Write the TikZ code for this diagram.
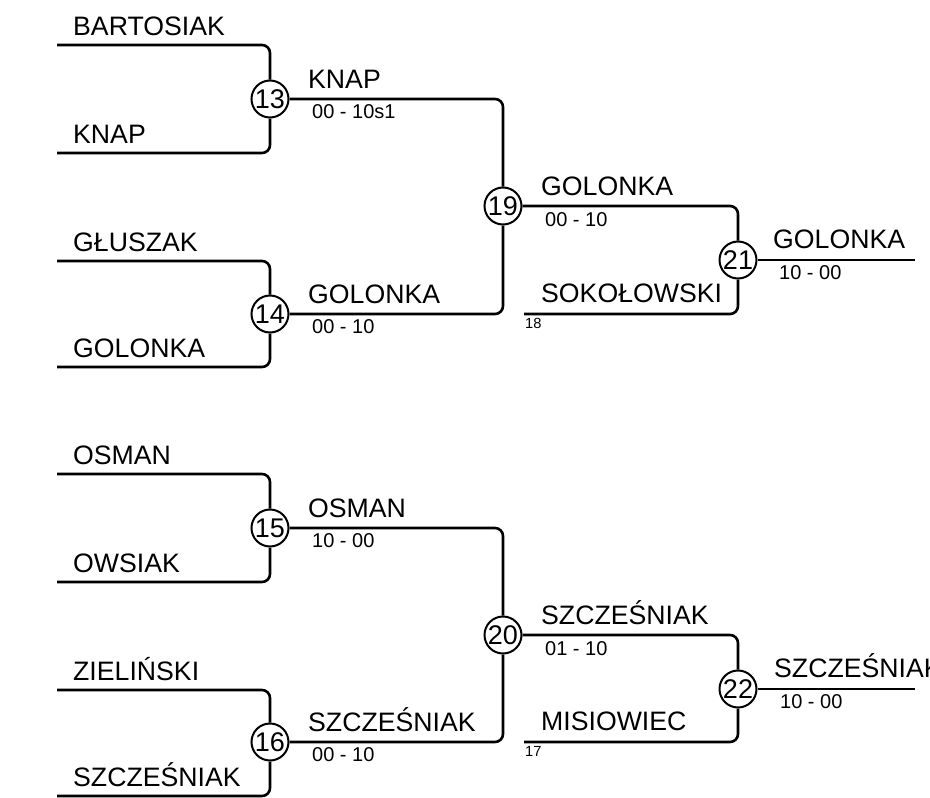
\documentclass[tikz,border=0pt]{standalone}
\usepackage{fontspec}
\setmainfont{Liberation Sans}
\begin{document}
\begin{tikzpicture}[x=1pt,y=-1pt,
  match/.style={circle, draw, fill=white, line width=2pt, minimum size=37pt, inner sep=0pt, font=\fontsize{27}{27}\selectfont},
  pname/.style={anchor=base west, inner sep=0pt, font=\fontsize{26.67}{30}\selectfont},
  pscore/.style={anchor=base west, inner sep=0pt, font=\fontsize{20}{22}\selectfont},
  pseed/.style={anchor=base west, inner sep=0pt, font=\fontsize{14.67}{16}\selectfont},
  wire/.style={line width=2.6pt, rounded corners=8pt}]
\useasboundingbox (0,0) rectangle (930,798);
\clip (0,0) rectangle (930,798);
% player line starts
\coordinate (p1) at (57,45);
\coordinate (p2) at (57,153);
\coordinate (p3) at (57,261);
\coordinate (p4) at (57,367);
\coordinate (p5) at (57,474);
\coordinate (p6) at (57,582);
\coordinate (p7) at (57,690);
\coordinate (p8) at (57,796);
\coordinate (s18) at (524,314);
\coordinate (s17) at (524,742);
\coordinate (f21) at (915,260);
\coordinate (f22) at (915,689);
% matches
\node[match] (m13) at (270,99) {13};
\node[match] (m14) at (270,314) {14};
\node[match] (m19) at (503,206) {19};
\node[match] (m21) at (738,260) {21};
\node[match] (m15) at (270,528) {15};
\node[match] (m16) at (270,742) {16};
\node[match] (m20) at (503,635) {20};
\node[match] (m22) at (738,689) {22};
% wires
\draw[wire] (p1) -| (m13);
\draw[wire] (p2) -| (m13);
\draw[wire] (p3) -| (m14);
\draw[wire] (p4) -| (m14);
\draw[wire] (p5) -| (m15);
\draw[wire] (p6) -| (m15);
\draw[wire] (p7) -| (m16);
\draw[wire] (p8) -| (m16);
\draw[wire] (m13) -| (m19);
\draw[wire] (m14) -| (m19);
\draw[wire] (m15) -| (m20);
\draw[wire] (m16) -| (m20);
\draw[wire] (m19) -| (m21);
\draw[wire] (s18) -| (m21);
\draw[wire] (m20) -| (m22);
\draw[wire] (s17) -| (m22);
\draw[wire] (m21) -- (f21);
\draw[wire] (m22) -- (f22);
% first round names
\node[pname] (n1) at (73,35) {BARTOSIAK};
\node[pname] (n2) at (73,143) {KNAP};
\node[pname] (n3) at (73,251) {GŁUSZAK};
\node[pname] (n4) at (73,357) {GOLONKA};
\node[pname] (n5) at (73,464) {OSMAN};
\node[pname] (n6) at (73,572) {OWSIAK};
\node[pname] (n7) at (73,680) {ZIELIŃSKI};
\node[pname] (n8) at (73,786) {SZCZEŚNIAK};
% second round
\node[pname] (w13) at (308,88) {KNAP};
\node[pscore] (r13) at (312,118) {00 - 10s1};
\node[pname] (w14) at (308,303) {GOLONKA};
\node[pscore] (r14) at (312,333) {00 - 10};
\node[pname] (w15) at (308,517) {OSMAN};
\node[pscore] (r15) at (312,547) {10 - 00};
\node[pname] (w16) at (308,731) {SZCZEŚNIAK};
\node[pscore] (r16) at (312,761) {00 - 10};
% third round
\node[pname] (w19) at (541,195) {GOLONKA};
\node[pscore] (r19) at (545,226) {00 - 10};
\node[pname] (n18) at (541,302) {SOKOŁOWSKI};
\node[pseed] (d18) at (525,328) {18};
\node[pname] (w20) at (541,624) {SZCZEŚNIAK};
\node[pscore] (r20) at (545,655) {01 - 10};
\node[pname] (n17) at (541,730) {MISIOWIEC};
\node[pseed] (d17) at (525,756) {17};
% final
\node[pname] (w21) at (773,248) {GOLONKA};
\node[pscore] (r21) at (779,279) {10 - 00};
\node[pname] (w22) at (774,677) {SZCZEŚNIAK};
\node[pscore] (r22) at (780,708) {10 - 00};
\end{tikzpicture}
\end{document}
